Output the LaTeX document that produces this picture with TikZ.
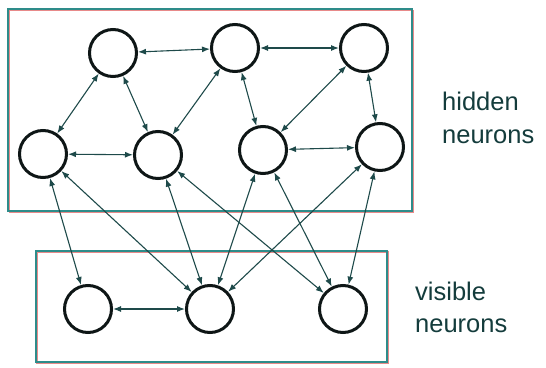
\documentclass[tikz,border=0pt]{standalone}
\usepackage{fontspec}
\setmainfont{Liberation Sans}
\usetikzlibrary{arrows.meta}
\definecolor{wire}{HTML}{1E4A4A}
\definecolor{ring}{HTML}{0E1616}
\definecolor{frame}{HTML}{2E8C8A}
\definecolor{fringe}{HTML}{E88A8A}
\definecolor{label}{HTML}{143C3C}
\begin{document}
\begin{tikzpicture}[x=1pt,y=-1pt,
  neuron/.style={circle,draw=ring,line width=3pt,minimum size=47pt,inner sep=0pt,fill=white},
  link/.style={draw=wire,line width=1.1pt,{Latex[length=8pt,width=6pt]}-{Latex[length=8pt,width=6pt]}},
  group/.style={draw=frame,line width=1.1pt},
  glow/.style={draw=fringe,line width=1.4pt},
  caption/.style={anchor=base west,inner sep=0pt,text=label,font=\fontsize{25.5}{30}\selectfont}]
\useasboundingbox (0,0) rectangle (546,367);
% layer frames
\draw[glow] (9.5,10.5) rectangle (413.5,212.5);
\draw[group] (8,9) rectangle (412,211);
\draw[glow] (37,252) rectangle (388,363);
\draw[group] (36,251) rectangle (387,362);
% hidden layer
\node[neuron] (h1) at (113,53) {};
\node[neuron] (h2) at (235,48) {};
\node[neuron] (h3) at (364,48) {};
\node[neuron] (m1) at (43,154) {};
\node[neuron] (m2) at (158,155) {};
\node[neuron] (m3) at (263,150) {};
\node[neuron] (m4) at (380,147) {};
% visible layer
\node[neuron] (v1) at (88,309) {};
\node[neuron] (v2) at (210,309) {};
\node[neuron] (v3) at (343,309) {};
% symmetric connections
\draw[link] (h1) -- (h2);
\draw[link] (h2) -- (h3);
\draw[link] (h1) -- (m1);
\draw[link] (h1) -- (m2);
\draw[link] (h2) -- (m2);
\draw[link] (h2) -- (m3);
\draw[link] (h3) -- (m3);
\draw[link] (h3) -- (m4);
\draw[link] (m1) -- (m2);
\draw[link] (m3) -- (m4);
\draw[link] (m1) -- (v1);
\draw[link] (m1) -- (v2);
\draw[link] (m2) -- (v2);
\draw[link] (m2) -- (v3);
\draw[link] (m3) -- (v2);
\draw[link] (m3) -- (v3);
\draw[link] (m4) -- (v2);
\draw[link] (m4) -- (v3);
\draw[link] (v1) -- (v2);
% layer names
\node[caption] (hid1) at (442,110) {hidden};
\node[caption] (hid2) at (442,143) {neurons};
\node[caption] (vis1) at (415,300) {visible};
\node[caption] (vis2) at (415,332) {neurons};
\end{tikzpicture}
\end{document}
